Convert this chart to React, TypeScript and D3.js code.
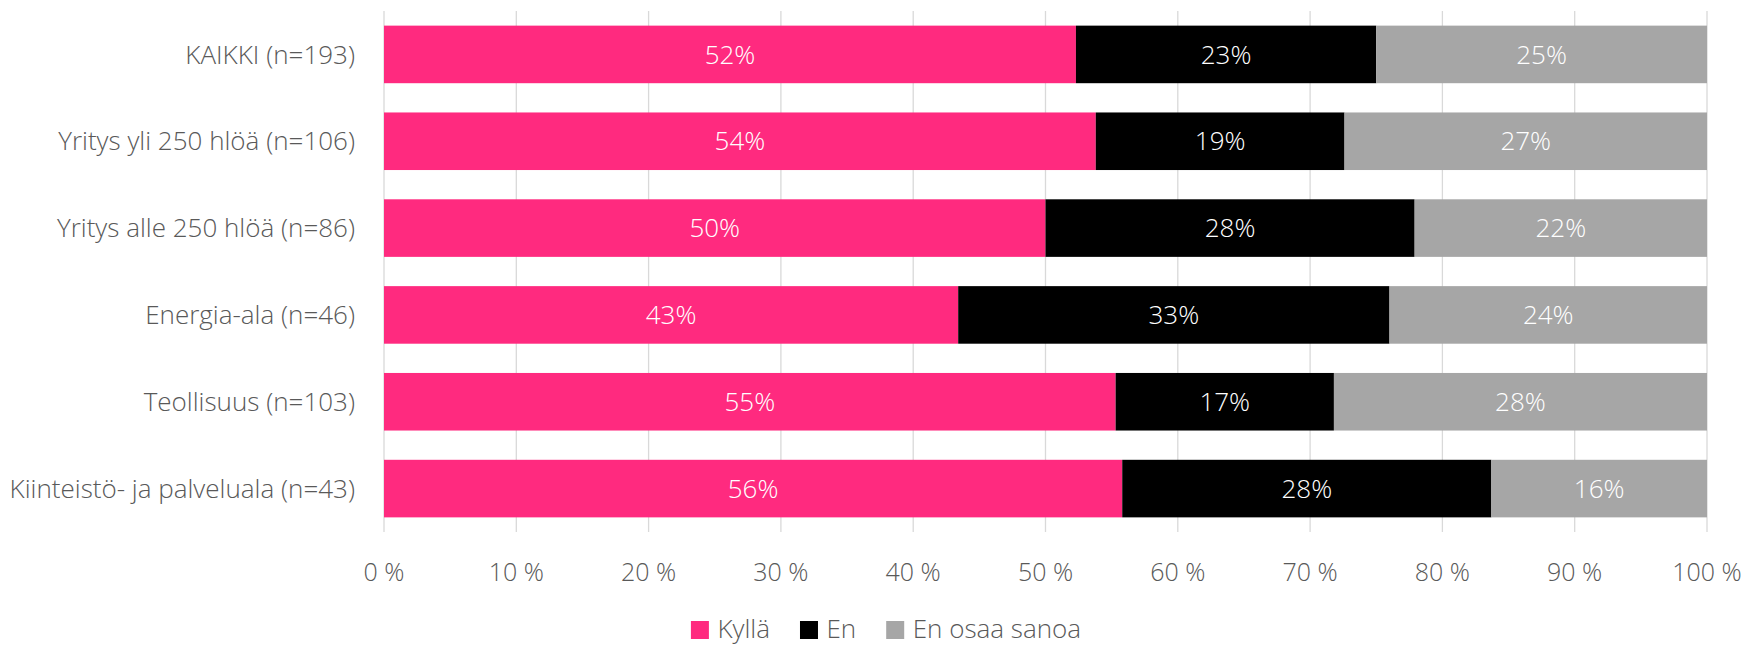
import React, { useEffect, useRef } from "react";
import * as d3 from "d3";

const categories = [
  "KAIKKI (n=193)",
  "Yritys yli 250 hlöä (n=106)",
  "Yritys alle 250 hlöä (n=86)",
  "Energia-ala (n=46)",
  "Teollisuus (n=103)",
  "Kiinteistö- ja palveluala (n=43)",
];
const seriesNames = ["Kyllä", "En", "En osaa sanoa"];
const kylla = [52.3, 53.8, 50.0, 43.4, 55.3, 55.8];
const en = [22.7, 18.8, 27.9, 32.6, 16.5, 27.9];
const eos = [25.0, 27.4, 22.1, 24.0, 28.2, 16.3];
const ticks = [0, 10, 20, 30, 40, 50, 60, 70, 80, 90, 100];
const colors = ["#ff2a7f", "#000000", "#a6a6a6"];

const W = 1742;
const H = 646;
const FONT = "'Open Sans', 'Noto Sans', sans-serif";

export default function App() {
  const ref = useRef<SVGSVGElement | null>(null);

  useEffect(() => {
    const svg = d3.select(ref.current);
    svg.selectAll("*").remove();

    const x = d3.scaleLinear().domain([0, 100]).range([384, 1707]);
    const y = d3
      .scaleBand<string>()
      .domain(categories)
      .range([11, 532])
      .paddingInner(0.337)
      .paddingOuter(0.1685);

    // gridlines
    svg
      .append("g")
      .selectAll("line")
      .data(ticks)
      .join("line")
      .attr("x1", (d) => x(d))
      .attr("x2", (d) => x(d))
      .attr("y1", 11)
      .attr("y2", 532)
      .attr("stroke", "#d9d9d9")
      .attr("stroke-width", 1.3);

    const rows = categories.map((c, i) => ({
      cat: c,
      Kyllä: kylla[i],
      En: en[i],
      "En osaa sanoa": eos[i],
    }));
    const stack = d3.stack<any>().keys(seriesNames)(rows);

    const gBars = svg.append("g");
    stack.forEach((layer, li) => {
      const g = gBars.append("g").attr("fill", colors[li]);
      g.selectAll("rect")
        .data(layer)
        .join("rect")
        .attr("x", (d) => x(d[0]))
        .attr("width", (d) => x(d[1]) - x(d[0]))
        .attr("y", (d) => y(d.data.cat)!)
        .attr("height", y.bandwidth());
    });
    stack.forEach((layer) => {
      gBars
        .append("g")
        .selectAll("text")
        .data(layer)
        .join("text")
        .attr("x", (d) => (x(d[0]) + x(d[1])) / 2)
        .attr("y", (d) => y(d.data.cat)! + y.bandwidth() / 2)
        .attr("dy", "0.35em")
        .attr("text-anchor", "middle")
        .attr("fill", "#ffffff")
        .attr("font-family", FONT)
        .attr("font-weight", 300)
        .attr("font-size", 26)
        .text((d) => `${Math.round(d[1] - d[0])}%`);
    });

    // category labels
    svg
      .append("g")
      .selectAll("text")
      .data(categories)
      .join("text")
      .attr("x", 355)
      .attr("y", (d) => y(d)! + y.bandwidth() / 2)
      .attr("dy", "0.35em")
      .attr("text-anchor", "end")
      .attr("fill", "#595959")
      .attr("font-family", FONT)
      .attr("font-weight", 300)
      .attr("font-size", 26)
      .text((d) => d);

    // tick labels
    svg
      .append("g")
      .selectAll("text")
      .data(ticks)
      .join("text")
      .attr("x", (d) => x(d))
      .attr("y", 572)
      .attr("dy", "0.35em")
      .attr("text-anchor", "middle")
      .attr("fill", "#595959")
      .attr("font-family", FONT)
      .attr("font-weight", 300)
      .attr("font-size", 25)
      .text((d) => `${d} %`);

    // legend
    const legend = svg.append("g");
    let cx = 0;
    seriesNames.forEach((name, i) => {
      const g = legend.append("g");
      g.append("rect")
        .attr("x", cx)
        .attr("y", 621)
        .attr("width", 18)
        .attr("height", 18)
        .attr("fill", colors[i]);
      const t = g
        .append("text")
        .attr("x", cx + 26.5)
        .attr("y", 629)
        .attr("dy", "0.35em")
        .attr("fill", "#595959")
        .attr("font-family", FONT)
        .attr("font-weight", 300)
        .attr("font-size", 26)
        .text(name);
      const tw = (t.node() as SVGTextElement).getComputedTextLength();
      cx += 26.5 + tw + (i < seriesNames.length - 1 ? 30 : 0);
    });
    legend.attr("transform", `translate(${886 - cx / 2},0)`);
  }, []);

  return (
    <svg
      ref={ref}
      width={W}
      height={H}
      style={{ position: "absolute", left: 0, top: 0, background: "#fff" }}
    />
  );
}
